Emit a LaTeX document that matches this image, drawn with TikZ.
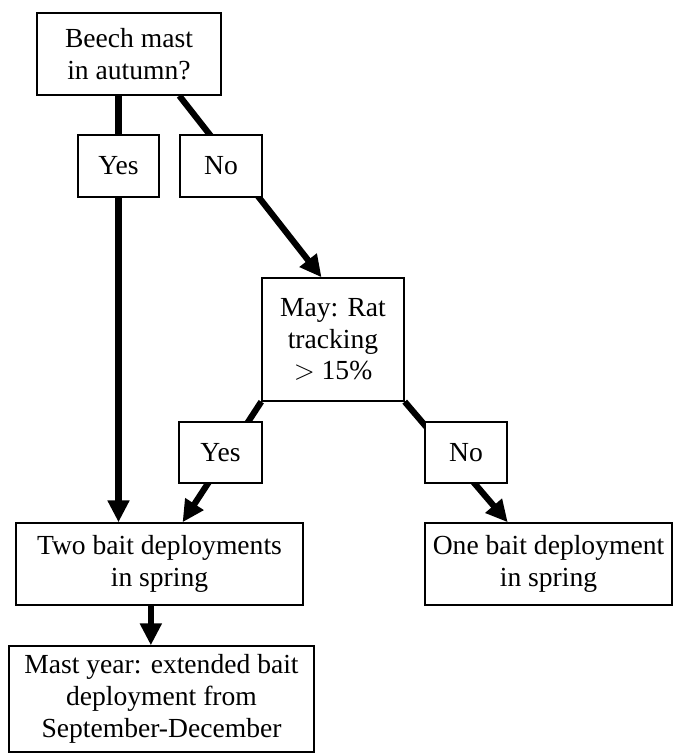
\documentclass[tikz,border=0pt]{standalone}
\usepackage{fontspec}
\setmainfont{Liberation Serif}
\usetikzlibrary{arrows.meta,calc,backgrounds}

\begin{document}
\begin{tikzpicture}[x=0.435pt,y=-0.435pt,
  box/.style={draw,fill=white,line width=0.6pt,align=center,inner sep=1pt,
    font=\fontsize{12}{13.8}\selectfont},
  link/.style={line width=2.7pt},
  arrow/.style={link,-{Triangle[length=9.5pt,width=9pt]}}]
\useasboundingbox (0,0) rectangle (678,754);
\path % we place the nodes once
  node[box,minimum width=80pt,minimum height=35.7pt] (1) at (129,54) {Beech mast\\in autumn?}
  node[box,minimum width=35.2pt,minimum height=27pt] (2) at (118.5,166) {Yes}
  node[box,minimum width=35.7pt,minimum height=27pt] (3) at (221,166) {No}
  node[box,minimum width=61.8pt,minimum height=53.5pt] (4) at (333,339.5) {May: Rat\\tracking\\$>$ 15\%}
  node[box,minimum width=36.1pt,minimum height=26.5pt] (5) at (220.5,452.5) {Yes}
  node[box,minimum width=35.7pt,minimum height=26.5pt] (6) at (466,452.5) {No}
  node[box,minimum width=124.8pt,minimum height=35.7pt] (7) at (159.5,564) {Two bait deployments\\in spring}
  node[box,minimum width=107.4pt,minimum height=35.7pt] (8) at (548.5,564) {One bait deployment\\in spring}
  node[box,minimum width=132.7pt,minimum height=46.1pt] (9) at (161.5,699) {Mast year: extended bait\\deployment from\\September-December};

\begin{scope}[on background layer]
   \draw[arrow] (1.south -| 2) -- (7.north -| 2) ;
   \draw[arrow] (1.south -| 3.west) -- ($(4.north west)!0.42!(4.north east)$) ;
   \draw[arrow] (4.south west) -- ($(7.north west)!0.58!(7.north east)$) ;
   \draw[arrow] (4.south east) -- (8.north -| 6.east) ;
   \draw[arrow] ($(7.south west)!0.47!(7.south east)$) coordinate (t) -- (t |- 9.north) ;
\end{scope}

\end{tikzpicture}
\end{document}
